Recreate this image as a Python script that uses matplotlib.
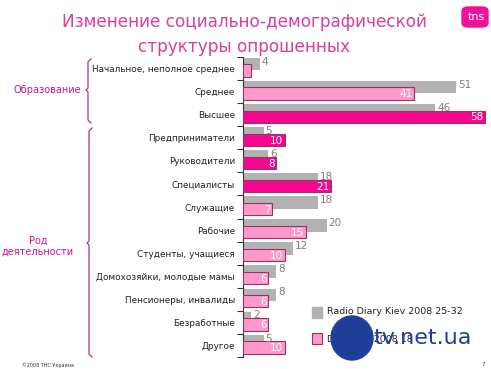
import matplotlib
matplotlib.use("Agg")
import matplotlib.pyplot as plt
from matplotlib.patches import FancyBboxPatch, Rectangle, Ellipse
from matplotlib.lines import Line2D
import numpy as np

categories = ["Начальное, неполное среднее", "Среднее", "Высшее", "Предприниматели",
              "Руководители", "Специалисты", "Служащие", "Рабочие", "Студенты, учащиеся",
              "Домохозяйки, молодые мамы", "Пенсионеры, инвалиды", "Безработные", "Другое"]
radio_diary = [4, 51, 46, 5, 6, 18, 18, 20, 12, 8, 8, 2, 5]
drr = [2, 41, 58, 10, 8, 21, 7, 15, 10, 6, 6, 6, 10]
highlight = [False, False, True, True, True, True, False, False, False, False, False, False, False]
series_names = ["Radio Diary Kiev 2008 25-32", "DRR Kiev 2008 18"]

GRAY = "#b2b2b2"
HOT = "#f5078f"
LIGHT = "#ff99cc"
EDGE = "#993366"
MAG = "#d9409a"

fig = plt.figure(figsize=(4.91, 3.69), dpi=100)
W, H = 491, 369
def fx(px): return px / W
def fy(py): return 1 - py / H

ax = fig.add_axes([fx(243), fy(357), fx(488) - fx(243), fy(57) - fy(357)])
n = len(categories)
y = np.arange(n)
h = 0.535
ax.barh(y - 0.2, radio_diary, height=h, color=GRAY, edgecolor="none", zorder=2)
pcolors = [HOT if hl else LIGHT for hl in highlight]
ax.barh(y + 0.087, drr, height=h, color=pcolors, edgecolor=EDGE, linewidth=0.8, zorder=3)
for i in range(n):
    ax.text(radio_diary[i] + 0.4, y[i] - 0.3, str(radio_diary[i]), color="#808080",
            fontsize=7.5, va="center", ha="left", zorder=4)
    if drr[i] >= 3:
        ax.text(drr[i] - 0.4, y[i] + 0.12, str(drr[i]), color="white",
                fontsize=7.5, va="center", ha="right", zorder=4)
ax.set_xlim(0, 58.6)
ax.set_ylim(n - 0.5, -0.5)
for s in ["top", "right", "bottom"]:
    ax.spines[s].set_visible(False)
ax.spines["left"].set_color("#333333")
ax.spines["left"].set_linewidth(0.8)
ax.set_xticks([])
ax.set_yticks(np.arange(n + 1) - 0.5, minor=False)
ax.set_yticklabels([])
ax.tick_params(axis="y", length=4, width=0.8, color="#333333")
for i, c in enumerate(categories):
    ax.text(-1.9, y[i] + 0.05, c, ha="right", va="center", fontsize=6.4, color="#222222")

# title
fig.text(fx(244), fy(22), "Изменение социально-демографической", ha="center", va="center",
         fontsize=12.2, color=MAG)
fig.text(fx(244), fy(47), "структуры опрошенных", ha="center", va="center",
         fontsize=12.2, color=MAG)

# brackets
def brace(x, y0, y1, ym):
    xs = [x + 3, x, x, x - 2, x, x, x + 3]
    ys = [y0, y0 + 3, ym - 2, ym, ym + 2, y1 - 3, y1]
    fig.add_artist(Line2D([fx(v) for v in xs], [fy(v) for v in ys], color="#b0308a", lw=0.9))
brace(88, 59, 123, 90)
brace(89, 128, 357, 243)
fig.text(fx(47), fy(90), "Образование", ha="center", va="center", fontsize=7, color="#cc1199")
fig.text(fx(38), fy(246), "Род\nдеятельности", ha="center", va="center", fontsize=7,
         color="#cc1199", linespacing=1.05)

# legend
fig.add_artist(Rectangle((fx(312), fy(318)), fx(10), fy(307) - fy(318), color=GRAY))
fig.text(fx(327), fy(312), series_names[0], ha="left", va="center", fontsize=6.8, color="#222222")
fig.add_artist(Rectangle((fx(312), fy(344)), fx(10), fy(333) - fy(344), facecolor=LIGHT,
                         edgecolor=EDGE, lw=0.8))
fig.text(fx(327), fy(339), series_names[1], ha="left", va="center", fontsize=6.8, color="#222222")

# watermark
fig.add_artist(Ellipse((fx(352), fy(338)), fx(42), fy(316) - fy(360), color="#1f3f99", zorder=10))
fig.text(fx(373), fy(338), "tv.net.ua", ha="left", va="center", fontsize=16, color="#1f3f99",
         zorder=11)

# logo
fig.add_artist(FancyBboxPatch((fx(462), fy(27)), fx(26), fy(7) - fy(27),
                              boxstyle="round,pad=0.0,rounding_size=0.012", color="#ee1199"))
fig.text(fx(476), fy(17), "tns", ha="center", va="center", fontsize=8, color="white")

# footer
fig.text(fx(22), fy(365), "©2008 ТНС Украина", ha="left", va="center", fontsize=3.5, color="#333333")
fig.text(fx(483), fy(365), "7", ha="center", va="center", fontsize=4, color="#333333")

fig.savefig("out.png", dpi=100)
